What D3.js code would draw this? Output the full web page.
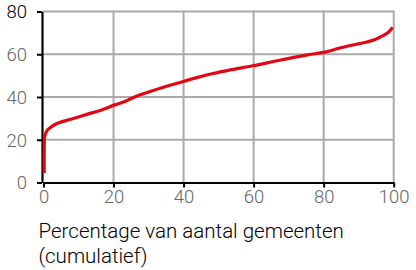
<!DOCTYPE html>
<html>
<head>
<meta charset="utf-8">
<script src="https://cdn.jsdelivr.net/npm/d3@7"></script>
<style>
  body { margin: 0; background: #fff; }
  svg { display: block; font-family: Roboto, sans-serif; }
</style>
</head>
<body>
<svg width="416" height="270"></svg>
<script>
// percentage of municipalities (cumulative) vs value
const pctGemeenten = [0.2, 0.2, 0.4, 1.1, 2.2, 4, 7.8, 12.6, 16.4, 20.2, 23, 26.9, 31.6, 36.4, 40.2, 44, 48.4, 53.1, 59.8, 67.4, 75, 80.7, 84.4, 88, 92, 94.5, 96.8, 98.5, 99.7];
const waarde      = [4.4, 14, 22, 24.5, 26, 27.7, 29.6, 32.0, 33.8, 36.2, 37.8, 40.6, 43.2, 45.6, 47.4, 49.2, 51, 52.6, 54.6, 57.2, 59.6, 61.1, 62.8, 64.2, 65.6, 66.8, 68.6, 70.3, 72.6];
const xTicks = [0, 20, 40, 60, 80, 100];
const yTicks = [0, 20, 40, 60, 80];
const xTitle = ["Percentage van aantal gemeenten", "(cumulatief)"];

const svg = d3.select("svg");

const x = d3.scaleLinear().domain([0, 100]).range([43.5, 393.7]);
const y = d3.scaleLinear().domain([0, 80]).range([182.5, 11.5]);

// grid
svg.append("g")
  .selectAll("line")
  .data(yTicks.filter(d => d > 0))
  .enter()
  .append("line")
  .attr("x1", x(0) - 1).attr("x2", x(100))
  .attr("y1", d => y(d)).attr("y2", d => y(d))
  .attr("stroke", "#aaa").attr("stroke-width", 2);

svg.append("g")
  .selectAll("line")
  .data(xTicks.filter(d => d > 0))
  .enter()
  .append("line")
  .attr("x1", d => x(d)).attr("x2", d => x(d))
  .attr("y1", y(0)).attr("y2", y(80) - 1)
  .attr("stroke", "#aaa").attr("stroke-width", 2);

// axes
const xAxis = svg.append("g")
  .attr("transform", `translate(0,${y(0)})`)
  .call(d3.axisBottom(x).tickValues(xTicks).tickSize(5).tickPadding(2).tickSizeOuter(0));
const yAxis = svg.append("g")
  .attr("transform", `translate(${x(0) - 1.5},0)`)
  .call(d3.axisLeft(y).tickValues(yTicks).tickSize(5).tickPadding(10).tickSizeOuter(0));

[xAxis, yAxis].forEach(a => {
  a.select(".domain").attr("stroke", "#000").attr("stroke-width", 2.2);
  a.selectAll(".tick line").attr("stroke", "#000").attr("stroke-width", 2);
  a.selectAll(".tick text")
    .attr("font-family", "Roboto, sans-serif")
    .attr("font-weight", 300)
    .attr("font-size", 18.5)
    .attr("fill", "#666");
});
yAxis.selectAll(".tick text").filter(d => d === 80).attr("fill", "#000");
yAxis.selectAll(".tick text").attr("dy", "0.34em");

// curve
svg.append("path")
  .datum(waarde)
  .attr("d", d3.line().x((d, i) => x(pctGemeenten[i])).y(d => y(d)).curve(d3.curveCatmullRom))
  .attr("fill", "none")
  .attr("stroke", "#e30613")
  .attr("stroke-width", 3.2)
  .attr("stroke-linejoin", "round");

// x title
svg.append("text")
  .attr("font-size", 20.5)
  .attr("font-weight", 300)
  .attr("fill", "#000")
  .selectAll("tspan")
  .data(xTitle)
  .enter()
  .append("tspan")
  .attr("x", 38.5)
  .attr("y", (d, i) => 237.5 + i * 25.5)
  .text(d => d);
</script>
</body>
</html>
